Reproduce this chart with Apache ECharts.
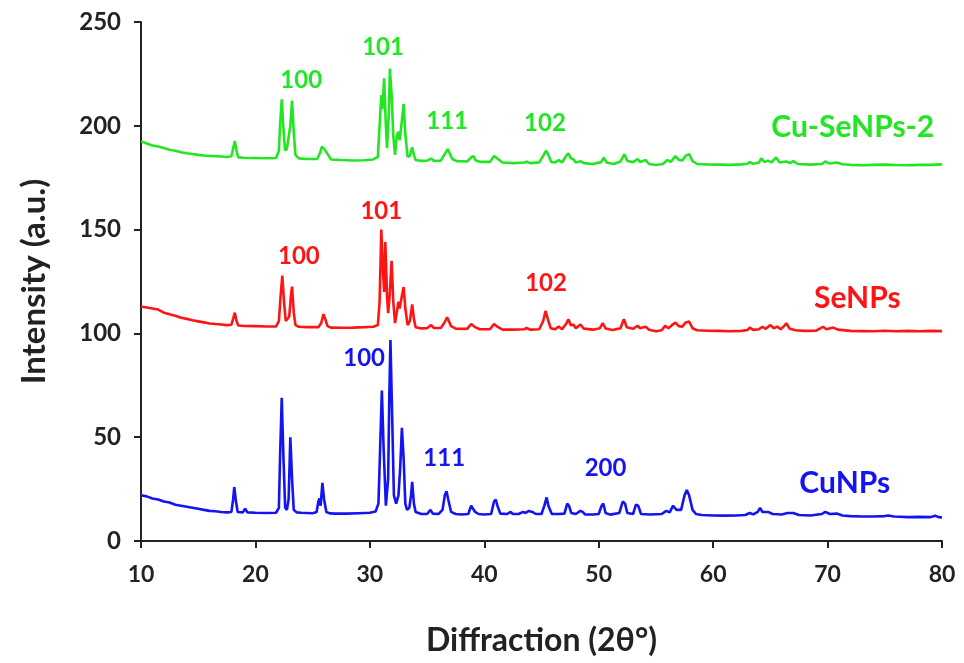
<!DOCTYPE html>
<html>
<head>
<meta charset="utf-8">
<script src="https://cdn.jsdelivr.net/npm/echarts@6/dist/echarts.min.js"></script>
<style>
  html, body { margin: 0; padding: 0; background: #fff; }
  #chart { width: 964px; height: 663px; }
</style>
</head>
<body>
<div id="chart"></div>
<script>
// XRD patterns, [2theta, intensity]
var cuNPs = [
  [10,22],[10.5,21.5],[11,20.5],[11.5,20],[12,19],[12.5,18.5],[13,17.5],[13.5,17],[14,16.5],[14.5,16],[15,15.5],[15.5,15],[16,14.5],[16.5,14.3],[17,14],[17.5,13.8],[17.9,14],
  [18.05,20],[18.15,26],[18.3,19],[18.45,14],[18.9,13.8],[19.1,15.5],[19.3,13.8],
  [20,13.6],[21,13.5],[21.8,13.6],[22.05,16],[22.15,40],[22.3,69],[22.45,40],[22.6,16],[22.75,15],[22.9,20],[23.05,50],[23.2,30],[23.35,15],[23.6,13.8],
  [24,13.6],[25,13.4],[25.35,14],[25.5,19],[25.6,20.5],[25.7,17],[25.85,28],[26,20],[26.2,14],[26.5,13.3],
  [27,13.2],[28,13.2],[29,13.4],[30,13.6],[30.5,14.2],[30.75,18],[30.9,45],[31.05,72.5],[31.2,45],[31.4,17],[31.5,16.5],[31.6,30],[31.7,70],[31.8,96.8],[31.95,60],[32.1,22],[32.3,18],[32.5,22],[32.65,35],[32.8,54.5],[32.95,40],[33.1,18],[33.25,15],[33.45,16],[33.6,22],[33.7,28.5],[33.85,18],[34,14],
  [34.5,13],[35,13],[35.3,15],[35.5,13.2],[36,13],[36.35,15],[36.55,22],[36.7,24],[36.85,20],[37.1,14],
  [37.5,13],[38,12.8],[38.6,13],[38.85,17],[39,17.5],[39.2,14],[39.5,13],[40,12.8],[40.6,13],[40.85,19],[41,20],[41.15,17],[41.4,13.2],
  [42,13],[42.3,14],[42.5,13],[43,13],[43.4,14],[43.6,13.5],[43.9,14.5],[44.2,14],[44.5,13],[45,13],[45.25,17],[45.45,21],[45.6,17],[45.9,13],
  [46.5,13],[47,13.2],[47.25,18],[47.4,17],[47.6,13.5],[48,13],[48.4,14.5],[48.6,14],[48.8,12.8],
  [49.5,12.8],[50,13],[50.25,17],[50.4,18],[50.6,13.5],[51,12.7],[51.8,13.5],[52.1,19],[52.3,18],[52.5,13.5],[53,13],[53.25,17.5],[53.45,17],[53.7,13],
  [54.5,12.8],[55.5,13],[55.9,14.5],[56.2,13.8],[56.5,17],[56.8,15],[57.2,15],[57.5,22],[57.7,24.5],[57.9,22],[58.2,15],[58.5,13],
  [59,12.5],[60,12.3],[61,12.2],[62,12.3],[62.8,12.5],[63.2,13.5],[63.5,12.8],[63.9,14],[64.1,16],[64.3,14],[64.8,14],[65.2,13],[66,12.8],[66.5,13.5],[67,13.5],[67.5,12.5],
  [68.5,12.3],[69.5,13],[69.8,14],[70.2,13],[70.8,13.2],[71.3,12.3],[72,12],[73,11.8],[74,11.8],[75,12],[75.3,12.3],[75.8,11.8],[77,11.5],[78,11.6],[79,11.5],[79.4,12.2],[79.7,11.5],[80,11.3]
];

var seNPs = [
  [10,113],[10.5,112.5],[11,112],[11.5,111.5],[12,110],[12.5,109.2],[13,108.5],[13.5,107.5],[14,107],[14.5,106.3],[15,105.8],[15.5,105.3],[16,104.8],[16.5,104.5],[17,104.3],[17.5,104],[17.9,104.2],
  [18.05,107],[18.2,110],[18.35,106],[18.5,103.8],
  [19,103.6],[20,103.5],[21,103.3],[21.8,103.3],[22.05,106],[22.2,118],[22.35,127.8],[22.5,115],[22.65,106],[22.8,106.5],[22.95,108],[23.1,118],[23.2,122.5],[23.35,110],[23.5,104],[23.8,103.2],
  [24.5,103],[25.5,103],[25.75,105],[25.95,109.3],[26.1,107],[26.3,103.5],[26.6,102.8],[27.5,102.7],[28.5,102.8],[29.5,103],[30.3,103.2],[30.7,104],
  [30.85,115],[31,150],[31.15,130],[31.25,120],[31.35,144],[31.5,118],[31.6,109.8],[31.75,120],[31.9,135],[32.05,115],[32.2,105],[32.35,110],[32.5,115.3],[32.6,112],[32.8,118],[32.95,122.3],[33.1,112],[33.3,104],[33.5,106],[33.7,114],[33.85,107],[34,103],
  [34.5,102.4],[35,102.5],[35.35,104],[35.6,102.6],[36.2,102.6],[36.5,105],[36.75,107.7],[36.9,107],[37.1,103.5],[37.5,102.3],[38.5,102.2],[38.85,104.5],[39,105.2],[39.2,103],[39.6,102],[40.5,102],[40.85,104.5],[41,105.2],[41.2,103],[41.6,101.8],
  [42.5,101.8],[43.5,102],[43.7,102.6],[44,101.8],[44.8,102],[45.15,106],[45.35,110.8],[45.55,107],[45.8,102.5],[46.2,102],[46.5,103.3],[46.8,102],[47.2,105],[47.35,106.8],[47.55,104],[47.8,104.2],[48,102.5],[48.4,104.3],[48.7,102.3],
  [49.5,101.8],[50.1,102.5],[50.35,104.9],[50.6,102.4],[51.2,101.6],[51.9,102.5],[52.2,106.8],[52.45,103],[53,102.2],[53.4,103.7],[53.6,102.5],[54.1,103.2],[54.4,101.8],[55,101],[55.5,101.5],[55.8,103.6],[56.1,102.5],[56.4,104],[56.7,105.2],[57,103.5],[57.3,103.2],[57.6,105.3],[57.9,105.7],[58.2,102.5],[58.6,101.5],
  [59.5,101.3],[60.5,101.2],[61.5,101],[62.5,101.2],[63,101.6],[63.2,102.8],[63.5,101.7],[64,102],[64.3,103.2],[64.6,102.2],[65,104],[65.3,102.5],[65.6,103.3],[65.9,102],[66.2,103.5],[66.4,104.9],[66.7,102.2],[67.2,101.5],
  [68,101.2],[69,101.3],[69.6,103.2],[69.9,102],[70.5,102.8],[70.9,101.8],[72,101.2],[73,101.1],[74,101],[75,101.3],[76,101],[77,101.2],[78,101],[79,101.2],[80,101.1]
];

var cuSeNPs2 = [
  [10,192.5],[10.5,191.5],[11,190.5],[11.5,190],[12,189.3],[12.5,188.5],[13,188],[13.5,187.3],[14,186.8],[14.5,186.4],[15,186],[15.5,185.7],[16,185.5],[16.5,185.4],[17,185.2],[17.5,185],[17.9,185.3],
  [18.05,189],[18.2,192.7],[18.35,188],[18.5,184.8],
  [19,184.6],[20,184.5],[21,184.4],[21.8,184.5],[22.05,188],[22.15,200],[22.3,212.8],[22.45,198],[22.6,188],[22.75,189],[22.9,188.5],[23.05,200],[23.2,212.1],[23.35,197],[23.5,186],[23.8,184.3],
  [24.5,184],[25.4,184],[25.65,187],[25.8,189.9],[26,189],[26.15,189.9],[26.35,186],[26.6,183.8],[27.5,183.5],[28.5,183.3],[29.5,183.4],[30.3,183.8],[30.7,185],
  [30.85,200],[31,214.8],[31.1,208],[31.25,222.9],[31.4,200],[31.5,189.2],[31.65,205],[31.75,227.5],[31.9,215],[32.05,195],[32.2,186],[32.35,195],[32.5,197.2],[32.6,193],[32.75,200],[32.95,210.5],[33.1,196],[33.3,185],[33.5,185.5],[33.7,189.6],[33.85,186],[34,183.5],
  [34.5,183.1],[35,183.2],[35.35,184.2],[35.6,183.1],[36.2,183.2],[36.5,186],[36.8,188.8],[36.95,188],[37.2,184],[37.6,183],[38.5,182.8],[38.85,184.8],[39.05,185.4],[39.25,183.3],[39.7,182.6],[40.5,182.6],[40.85,185.5],[41,186.4],[41.2,184],[41.6,182.3],
  [42.5,182],[43.5,182.3],[43.7,182.7],[44,182],[44.8,182.4],[45.15,185.5],[45.4,188],[45.6,186],[45.85,182.6],[46.2,182.4],[46.5,183.5],[46.8,182.3],[47.15,185.5],[47.35,186.7],[47.55,184.5],[47.8,183.8],[48,182.3],[48.45,182.9],[48.7,182],
  [49.5,181.6],[50.2,182.5],[50.45,184.6],[50.7,182.3],[51.3,181.6],[51.9,182.8],[52.25,186.3],[52.5,183],[53,182.5],[53.4,184],[53.6,182.6],[54.1,183.5],[54.4,181.6],[55,181.1],[55.6,181.6],[56,183.5],[56.3,182.6],[56.7,185.4],[57,183.6],[57.3,183.3],[57.6,185.5],[57.9,186.4],[58.2,183],[58.6,181.6],
  [59.5,181.4],[60.5,181.3],[61.5,181.2],[62.5,181.4],[63,181.7],[63.2,182.5],[63.5,181.7],[64,182.3],[64.2,184.3],[64.5,182.5],[64.8,183.2],[65.1,182.4],[65.5,184.8],[65.8,182.3],[66.4,182.8],[66.7,182],[67,183],[67.4,181.6],
  [68.5,181.3],[69.5,181.6],[69.8,182.8],[70.2,181.8],[70.8,182.3],[71.3,181.5],[72,181.2],[73,181],[74,181.2],[75,181.3],[76,181.1],[77,181],[78,181.2],[79,181.2],[80,181.4]
];

// [x, y, text] annotations
var cuLabels = [[29.5, 88, "100"], [36.5, 40, "111"], [50.6, 35, "200"]];
var seLabels = [[23.8, 137, "100"], [31.0, 159, "101"], [45.4, 124, "102"]];
var cuSeLabels = [[24.0, 222, "100"], [31.15, 238, "101"], [36.75, 202, "111"], [45.3, 201, "102"]];
var seriesNames = ["CuNPs", "SeNPs", "Cu-SeNPs-2"];
var namePos = [[71.5, 28], [72.6, 117], [72.2, 199.5]];
var colors = ["#1414f0", "#ff1414", "#22e622"];

var xTicks = [10, 20, 30, 40, 50, 60, 70, 80];
var yTicks = [0, 50, 100, 150, 200, 250];

var FONT = "Lato";

function marks(list, name, pos) {
  var out = list.map(function (l) {
    return { coord: [l[0], l[1]], value: l[2], label: { fontSize: 24 } };
  });
  out.push({ coord: pos, value: name, label: { fontSize: 30 } });
  return out;
}

var chart = echarts.init(document.getElementById("chart"));
var allLabels = [cuLabels, seLabels, cuSeLabels];
var allData = [cuNPs, seNPs, cuSeNPs2];

chart.setOption({
  animation: false,
  grid: { left: 141, right: 22, top: 22, bottom: 122 },
  xAxis: {
    type: "value",
    min: xTicks[0], max: xTicks[xTicks.length - 1], interval: 10,
    name: "Diffraction (2θ°)",
    nameLocation: "middle", nameGap: 84,
    nameTextStyle: { fontFamily: FONT, fontSize: 32, fontWeight: "bold", color: "#222" },
    axisLine: { lineStyle: { color: "#222", width: 2 } },
    axisTick: { length: 7, lineStyle: { color: "#222", width: 2 } },
    axisLabel: { margin: 22, fontFamily: FONT, fontSize: 23, fontWeight: "bold", color: "#222" },
    splitLine: { show: false }
  },
  yAxis: {
    type: "value",
    min: yTicks[0], max: yTicks[yTicks.length - 1], interval: 50,
    name: "Intensity (a.u.)",
    nameLocation: "middle", nameGap: 90,
    nameTextStyle: { fontFamily: FONT, fontSize: 33, fontWeight: "bold", color: "#222" },
    axisLine: { show: true, lineStyle: { color: "#222", width: 2 } },
    axisTick: { show: true, length: 7, lineStyle: { color: "#222", width: 2 } },
    axisLabel: { margin: 20, fontFamily: FONT, fontSize: 24, fontWeight: "bold", color: "#222" },
    splitLine: { show: false }
  },
  series: allData.map(function (d, i) {
    return {
      name: seriesNames[i],
      type: "line",
      data: d,
      showSymbol: false,
      lineStyle: { color: colors[i], width: 2.6 },
      itemStyle: { color: colors[i] },
      markPoint: {
        symbolSize: 0,
        label: {
          show: true, position: "inside", formatter: "{c}",
          fontFamily: FONT, fontWeight: "bold", color: colors[i]
        },
        data: marks(allLabels[i], seriesNames[i], namePos[i])
      }
    };
  })
});
</script>
</body>
</html>
